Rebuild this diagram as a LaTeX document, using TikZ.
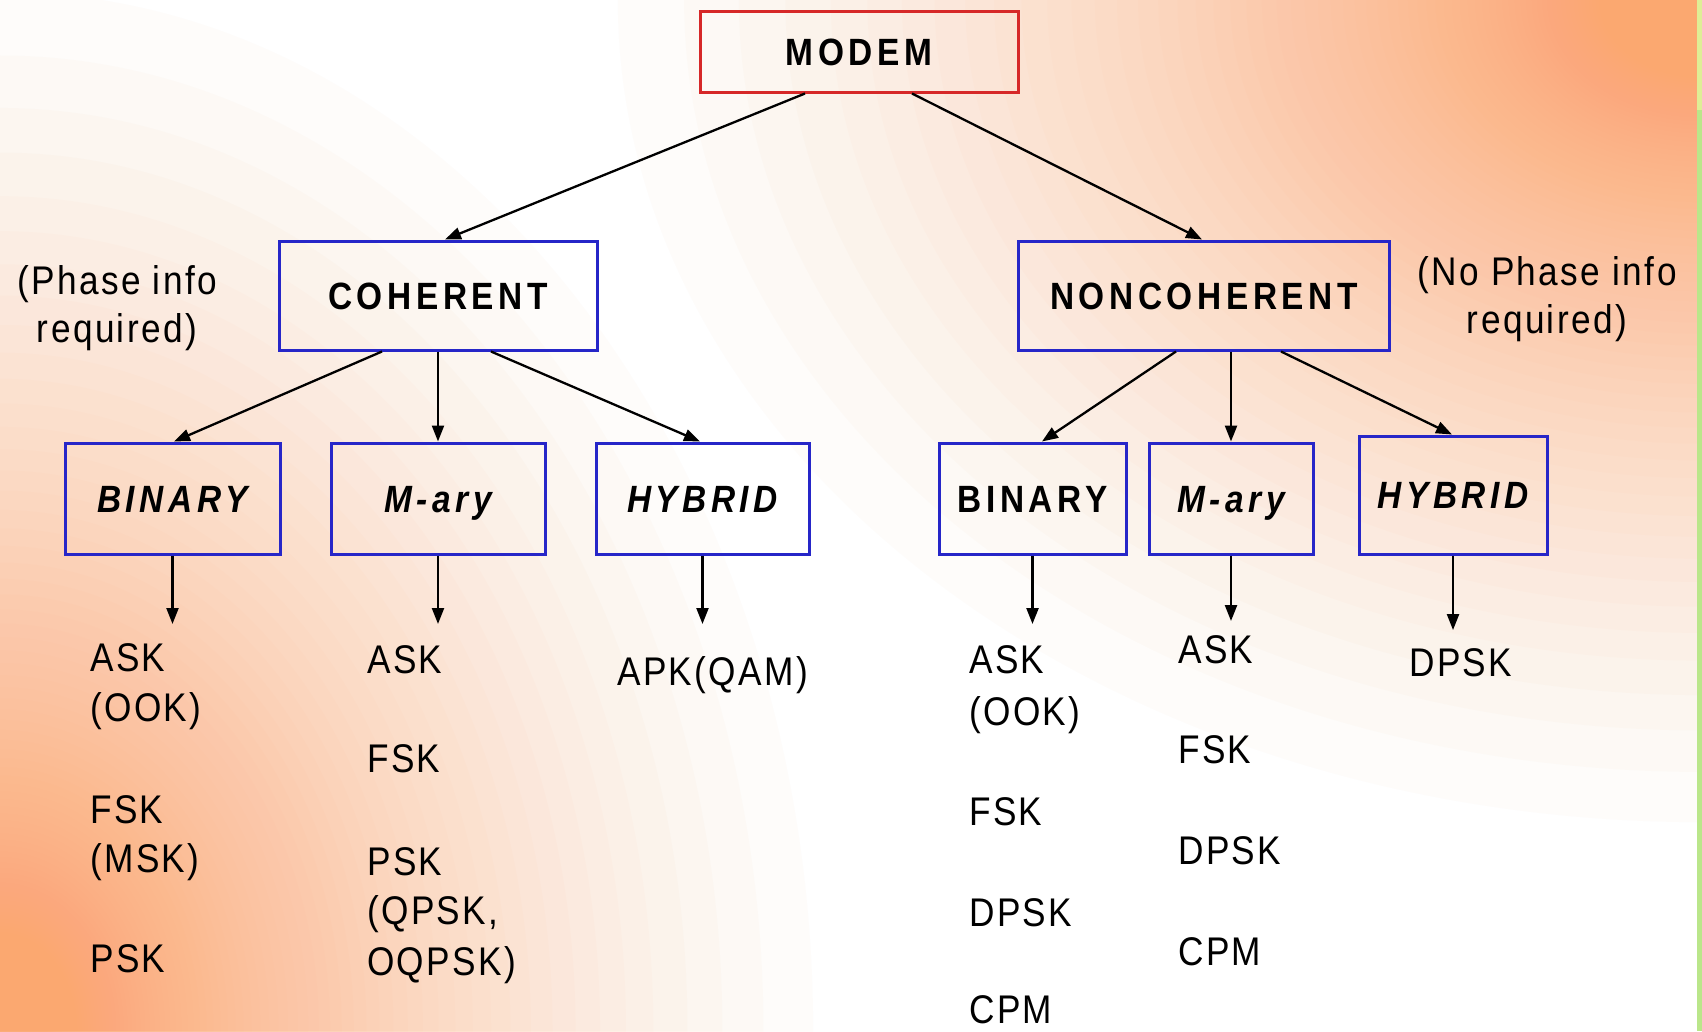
\documentclass[tikz,border=0pt]{standalone}
\usepackage{fontspec}
\newfontfamily\itemfont{Liberation Sans}[FakeStretch=0.88,LetterSpace=6]
\newfontfamily\labelfont{Liberation Sans}[FakeStretch=0.88,LetterSpace=12]
\usetikzlibrary{arrows.meta}

\definecolor{peach}{RGB}{251,168,112}
\definecolor{boxblue}{RGB}{38,38,200}
\definecolor{boxred}{RGB}{214,40,40}
\definecolor{stripgreen}{RGB}{186,230,138}
\definecolor{stripyellow}{RGB}{222,238,150}

\tikzset{
  boxbase/.style={line width=3pt, inner sep=0pt,
    font=\labelfont\bfseries\fontsize{38}{44}\selectfont,
    text height=27.2pt, text depth=0pt},
  bluebox/.style={boxbase, draw=boxblue},
  redbox/.style={boxbase, draw=boxred},
  conn/.style={line width=2.3pt, -{Triangle[length=16pt,width=12pt]}},
  item/.style={anchor=base west, inner sep=0pt,
    font=\itemfont\fontsize{40}{48}\selectfont},
  note/.style={anchor=base, inner sep=0pt,
    font=\itemfont\fontsize{40}{48}\selectfont},
  glow/.style={peach, fill opacity=0.03}
}

\begin{document}
\begin{tikzpicture}[x=1pt,y=-1pt]
\useasboundingbox (0,0) rectangle (1702,1031);

% soft peach background glow, built from stacked translucent ellipses
\fill[white] (0,0) rectangle (1702,1031);
\begin{scope}
  \clip (0,0) rectangle (1702,1031);
  \foreach \k in {1,...,100}{
    \pgfmathsetmacro\s{1-(1-0.97^\k)^(0.6667)}
    \fill[glow] (1702,0) ellipse [x radius=1200*\s, y radius=910*\s];
    \fill[glow] (0,1031) ellipse [x radius=900*\s, y radius=1150*\s];
  }
\end{scope}
\fill[stripgreen] (1697,0) rectangle (1702,1031);
\fill[stripyellow] (1697,0) rectangle (1702,110);

% tree boxes
\node[redbox,  minimum width=318pt, minimum height=81pt]  (modem) at (859,51.5) {MODEM};
\node[bluebox, minimum width=318pt, minimum height=109pt] (coh)   at (438,295.5) {COHERENT};
\node[bluebox, minimum width=371pt, minimum height=109pt] (ncoh)  at (1204,295.5) {NONCOHERENT};

\node[bluebox, minimum width=215pt, minimum height=111pt] (cbin)  at (172.5,498.5) {\itshape BINARY};
\node[bluebox, minimum width=214pt, minimum height=111pt] (cmary) at (438,498.5) {\itshape M-ary};
\node[bluebox, minimum width=213pt, minimum height=111pt] (chyb)  at (702.5,498.5) {\itshape HYBRID};
\node[bluebox, minimum width=187pt, minimum height=111pt] (nbin)  at (1032.5,498.5) {BINARY};
\node[bluebox, minimum width=164pt, minimum height=111pt] (nmary) at (1231,498.5) {\itshape M-ary};
\node[bluebox, minimum width=188pt, minimum height=118pt] (nhyb)  at (1453,495) {\itshape HYBRID};

% side notes
\node[note] (phA) at (117,294) {(Phase info};
\node[note] (phB) at (117,342) {required)};
\node[note] (nphA) at (1547,285) {(No Phase info};
\node[note] (nphB) at (1547,333) {required)};

% connectors between levels
\draw[conn] ([xshift=-54pt]modem.south) -- ([xshift=7pt]coh.north);
\draw[conn] ([xshift=53pt]modem.south) -- ([xshift=-2pt]ncoh.north);

\draw[conn] ([xshift=-56pt]coh.south) -- ([xshift=1.5pt]cbin.north);
\draw[conn] (coh.south) -- (cmary.north);
\draw[conn] ([xshift=53pt]coh.south) -- ([xshift=-2.5pt]chyb.north);

\draw[conn] ([xshift=-28pt]ncoh.south) -- ([xshift=9.5pt]nbin.north);
\draw[conn] (ncoh.south -| nmary.north) -- (nmary.north);
\draw[conn] ([xshift=77pt]ncoh.south) -- ([xshift=-1pt]nhyb.north);

% arrow tips into the technique lists
\coordinate (cbinT)  at (172.5,624);
\coordinate (cmaryT) at (438,624);
\coordinate (chybT)  at (702.5,624);
\coordinate (nbinT)  at (1032.5,624);
\coordinate (nmaryT) at (1231,621);
\coordinate (nhybT)  at (1453,630);
\draw[conn] (cbin.south)  -- (cbinT);
\draw[conn] (cmary.south) -- (cmaryT);
\draw[conn] (chyb.south)  -- (chybT);
\draw[conn] (nbin.south)  -- (nbinT);
\draw[conn] (nmary.south) -- (nmaryT);
\draw[conn] (nhyb.south)  -- (nhybT);

% coherent binary
\node[item] (cb1) at (90,671) {ASK};
\node[item] (cb2) at (90,721) {(OOK)};
\node[item] (cb3) at (90,823) {FSK};
\node[item] (cb4) at (90,872) {(MSK)};
\node[item] (cb5) at (90,972) {PSK};
% coherent M-ary
\node[item] (cm1) at (367,673) {ASK};
\node[item] (cm2) at (367,772) {FSK};
\node[item] (cm3) at (367,875) {PSK};
\node[item] (cm4) at (367,924) {(QPSK,};
\node[item] (cm5) at (367,975) {OQPSK)};
% coherent hybrid
\node[item] (ch1) at (617,685) {APK(QAM)};
% noncoherent binary
\node[item] (nb1) at (969,673) {ASK};
\node[item] (nb2) at (969,725) {(OOK)};
\node[item] (nb3) at (969,825) {FSK};
\node[item] (nb4) at (969,926) {DPSK};
\node[item] (nb5) at (969,1023) {CPM};
% noncoherent M-ary
\node[item] (nm1) at (1178,663) {ASK};
\node[item] (nm2) at (1178,763) {FSK};
\node[item] (nm3) at (1178,864) {DPSK};
\node[item] (nm4) at (1178,965) {CPM};
% noncoherent hybrid
\node[item] (nh1) at (1409,676) {DPSK};
\end{tikzpicture}
\end{document}
